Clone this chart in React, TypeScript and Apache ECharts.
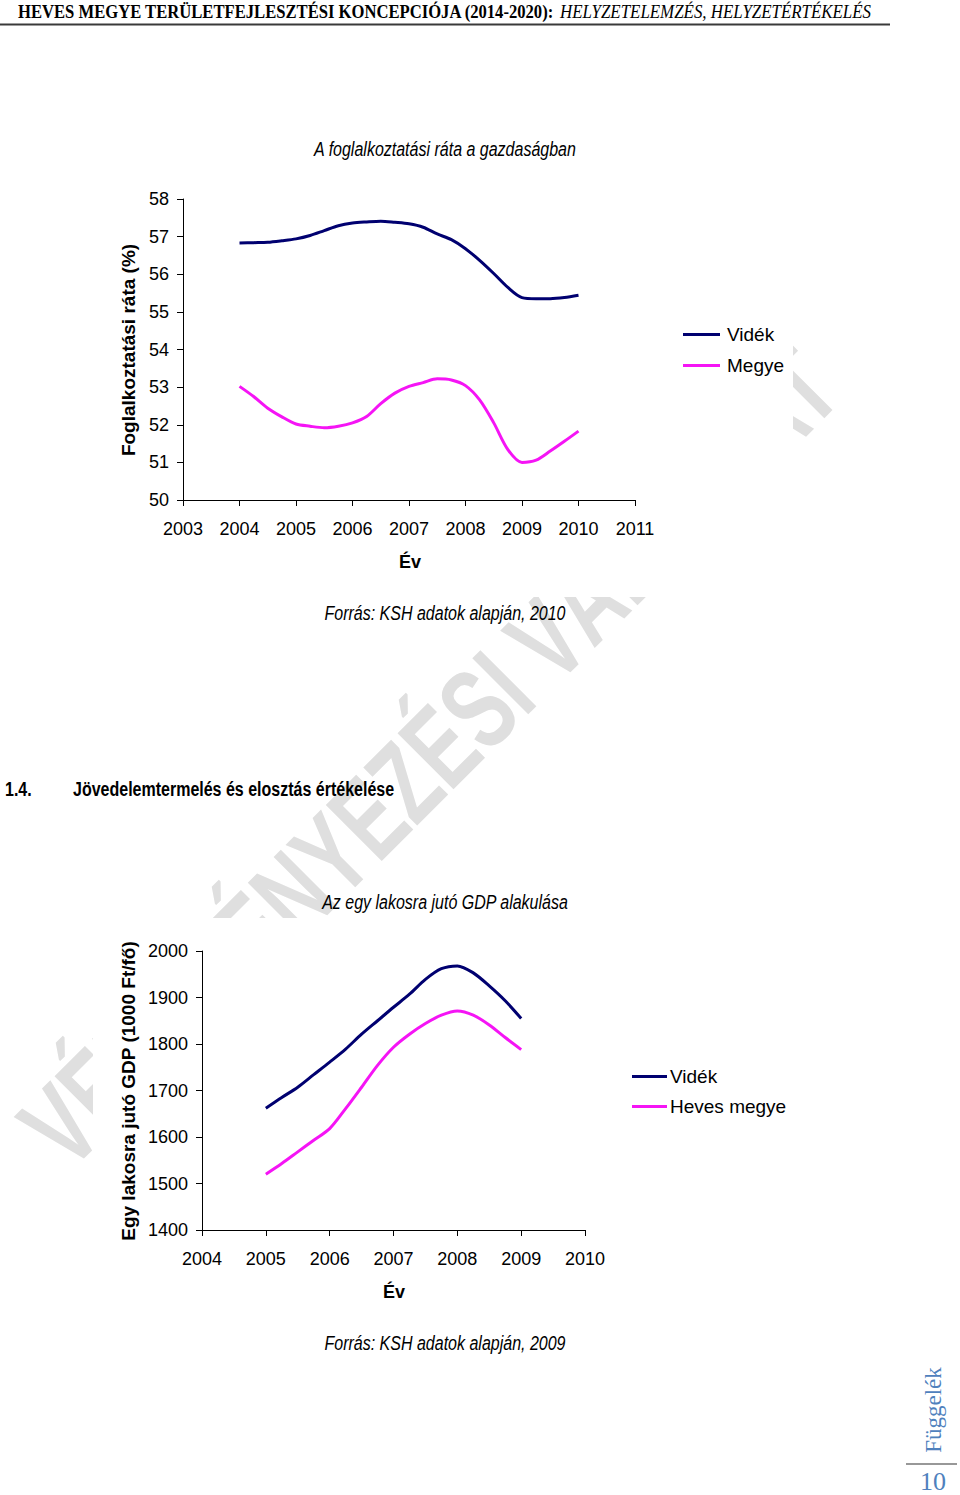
import React, { useEffect, useRef } from 'react';
import * as echarts from 'echarts';

// ---- Chart 1: Foglalkoztatási ráta (%), quarterly readings ----
const empYears = [2004, 2004.25, 2004.5, 2004.75, 2005, 2005.25, 2005.5, 2005.75, 2006, 2006.25, 2006.5, 2006.75, 2007, 2007.25, 2007.5, 2007.75, 2008, 2008.25, 2008.5, 2008.75, 2009, 2009.25, 2009.5, 2009.75, 2010];
const empVidek = [56.83, 56.84, 56.85, 56.89, 56.94, 57.03, 57.16, 57.29, 57.36, 57.39, 57.41, 57.38, 57.34, 57.25, 57.07, 56.92, 56.68, 56.37, 56.02, 55.65, 55.38, 55.35, 55.35, 55.38, 55.44];
const empMegye = [53.02, 52.75, 52.44, 52.21, 52.02, 51.96, 51.92, 51.96, 52.05, 52.22, 52.56, 52.84, 53.02, 53.12, 53.22, 53.19, 53.04, 52.66, 52.05, 51.34, 51.0, 51.06, 51.3, 51.56, 51.83];
const empSeriesNames = ['Vidék', 'Megye'];

// ---- Chart 2: Egy lakosra jutó GDP (1000 Ft/fő), quarterly readings ----
const gdpYears = [2005, 2005.25, 2005.5, 2005.75, 2006, 2006.25, 2006.5, 2006.75, 2007, 2007.25, 2007.5, 2007.75, 2008, 2008.25, 2008.5, 2008.75, 2009];
const gdpVidek = [1662, 1685, 1707, 1734, 1761, 1789, 1821, 1850, 1879, 1907, 1939, 1962, 1968, 1953, 1925, 1893, 1855];
const gdpHeves = [1520, 1543, 1568, 1593, 1618, 1661, 1707, 1754, 1793, 1821, 1844, 1862, 1871, 1862, 1841, 1814, 1788];
const gdpSeriesNames = ['Vidék', 'Heves megye'];

const NAVY = '#000070';
const MAGENTA = '#f514f5';
const SANS = "'Liberation Sans', Arial, sans-serif";
const SERIF = "'Liberation Serif', 'Times New Roman', serif";

const pairs = (xs: number[], ys: number[]) => xs.map((x, i) => [x, ys[i]]);

const labelStyle = { fontFamily: SANS, fontSize: 18, color: '#000' };

function xAxisCfg(grid: number, min: number, max: number) {
  return {
    gridIndex: grid,
    type: 'value',
    min,
    max,
    interval: 1,
    axisLine: { show: true, onZero: false, lineStyle: { color: '#000', width: 1 } },
    axisTick: { show: true, length: 6, lineStyle: { color: '#000' } },
    axisLabel: { ...labelStyle, margin: 20, formatter: (v: number) => String(v) },
    splitLine: { show: false },
  };
}

function yAxisCfg(grid: number, min: number, max: number, interval: number) {
  return {
    gridIndex: grid,
    type: 'value',
    min,
    max,
    interval,
    axisLine: { show: true, lineStyle: { color: '#000', width: 1 } },
    axisTick: { show: true, length: 6, lineStyle: { color: '#000' } },
    axisLabel: { ...labelStyle, margin: 14, formatter: (v: number) => String(v) },
    splitLine: { show: false },
  };
}

function lineSeries(name: string, grid: number, data: number[][], color: string) {
  return {
    name,
    type: 'line',
    xAxisIndex: grid,
    yAxisIndex: grid,
    data,
    smooth: 0.3,
    symbol: 'none',
    showSymbol: false,
    lineStyle: { color, width: 3 },
    itemStyle: { color },
    z: 3,
  };
}

function txt(x: number, y: number, text: string, font: any, extra: any = {}) {
  return {
    type: 'text',
    x,
    y,
    z: 5,
    ...extra,
    style: {
      text,
      fill: '#000',
      align: 'left',
      verticalAlign: 'middle',
      ...font,
    },
  };
}

export default function App() {
  const ref = useRef<HTMLDivElement>(null);

  useEffect(() => {
    if (!ref.current) return;
    const chart = echarts.init(ref.current, undefined, { renderer: 'svg' });

    const legendBase = {
      orient: 'vertical',
      icon: 'rect',
      itemHeight: 3,
      padding: 0,
      selectedMode: false,
    };

    const option: any = {
      animation: false,
      backgroundColor: '#fff',
      grid: [
        { left: 183, top: 199, width: 452, height: 301, containLabel: false },
        { left: 202, top: 951, width: 383, height: 279, containLabel: false },
      ],
      xAxis: [xAxisCfg(0, 2003, 2011), xAxisCfg(1, 2004, 2010)],
      yAxis: [yAxisCfg(0, 50, 58, 1), yAxisCfg(1, 1400, 2000, 100)],
      legend: [
        {
          ...legendBase,
          data: empSeriesNames,
          left: 683,
          top: 325,
          itemWidth: 37,
          itemGap: 12,
          textStyle: { fontFamily: SANS, fontSize: 19, color: '#000', padding: [0, 0, 0, 2] },
        },
        {
          ...legendBase,
          data: gdpSeriesNames,
          left: 632,
          top: 1067,
          itemWidth: 35,
          itemGap: 11,
          textStyle: { fontFamily: SANS, fontSize: 19, color: '#000', padding: [0, 0, 0, -2] },
        },
      ],
      series: [
        lineSeries(empSeriesNames[0], 0, pairs(empYears, empVidek), NAVY),
        lineSeries(empSeriesNames[1], 0, pairs(empYears, empMegye), MAGENTA),
        lineSeries(gdpSeriesNames[0], 1, pairs(gdpYears, gdpVidek), NAVY),
        lineSeries(gdpSeriesNames[1], 1, pairs(gdpYears, gdpHeves), MAGENTA),
      ],
      graphic: {
        elements: [
          // watermark
          {
            type: 'text',
            x: 82,
            y: 1186,
            rotation: Math.PI / 4,
            scaleX: 0.69,
            z: -20,
            style: {
              text: 'VÉLEMÉNYEZÉSI VÁLTOZAT',
              fill: '#dfdfdf',
              fontFamily: SANS,
              fontWeight: 'bold',
              fontSize: 115,
              align: 'left',
              verticalAlign: 'bottom',
            },
          },
          // white chart areas covering the watermark
          { type: 'rect', z: -10, shape: { x: 95, y: 118, width: 698, height: 479 }, style: { fill: '#fff' } },
          { type: 'rect', z: -10, shape: { x: 93, y: 918, width: 720, height: 450 }, style: { fill: '#fff' } },

          // header
          txt(18, 12, 'HEVES MEGYE TERÜLETFEJLESZTÉSI KONCEPCIÓJA (2014-2020):', { fontFamily: SERIF, fontWeight: 'bold', fontSize: 19 }, { scaleX: 0.875 }),
          txt(560, 12, 'HELYZETELEMZÉS, HELYZETÉRTÉKELÉS', { fontFamily: SERIF, fontStyle: 'italic', fontSize: 19 }, { scaleX: 0.89 }),
          { type: 'line', z: 5, shape: { x1: 0, y1: 24.5, x2: 890, y2: 24.5 }, style: { stroke: '#3a3a3a', lineWidth: 2 } },

          // chart 1 texts
          txt(445, 149, 'A foglalkoztatási ráta a gazdaságban', { fontFamily: SANS, fontStyle: 'italic', fontSize: 20, align: 'center' }, { scaleX: 0.8 }),
          txt(128, 350, 'Foglalkoztatási ráta (%)', { fontFamily: SANS, fontWeight: 'bold', fontSize: 19, align: 'center' }, { rotation: Math.PI / 2 }),
          txt(410, 562, 'Év', { fontFamily: SANS, fontWeight: 'bold', fontSize: 18, align: 'center' }),
          txt(445, 613, 'Forrás: KSH adatok alapján, 2010', { fontFamily: SANS, fontStyle: 'italic', fontSize: 20, align: 'center' }, { scaleX: 0.8 }),

          // section heading
          txt(5, 789, '1.4.', { fontFamily: SANS, fontWeight: 'bold', fontSize: 20 }, { scaleX: 0.8 }),
          txt(73, 789, 'Jövedelemtermelés és elosztás értékelése', { fontFamily: SANS, fontWeight: 'bold', fontSize: 20 }, { scaleX: 0.8 }),

          // chart 2 texts
          txt(445, 902, 'Az egy lakosra jutó GDP alakulása', { fontFamily: SANS, fontStyle: 'italic', fontSize: 20, align: 'center' }, { scaleX: 0.8 }),
          txt(128, 1091, 'Egy lakosra jutó GDP (1000 Ft/fő)', { fontFamily: SANS, fontWeight: 'bold', fontSize: 19, align: 'center' }, { rotation: Math.PI / 2 }),
          txt(394, 1292, 'Év', { fontFamily: SANS, fontWeight: 'bold', fontSize: 18, align: 'center' }),
          txt(445, 1343, 'Forrás: KSH adatok alapján, 2009', { fontFamily: SANS, fontStyle: 'italic', fontSize: 20, align: 'center' }, { scaleX: 0.8 }),

          // footer
          txt(933, 1410, 'Függelék', { fontFamily: SERIF, fontSize: 23, align: 'center', fill: '#4f81bd' }, { rotation: Math.PI / 2 }),
          { type: 'line', z: 5, shape: { x1: 906, y1: 1464, x2: 957, y2: 1464 }, style: { stroke: '#333', lineWidth: 1.2 } },
          txt(933, 1481, '10', { fontFamily: SERIF, fontSize: 26, align: 'center', fill: '#4f81bd' }),
        ],
      },
    };

    chart.setOption(option);
    return () => chart.dispose();
  }, []);

  return (
    <div
      ref={ref}
      style={{ position: 'absolute', left: 0, top: 0, width: 960, height: 1495 }}
    />
  );
}
